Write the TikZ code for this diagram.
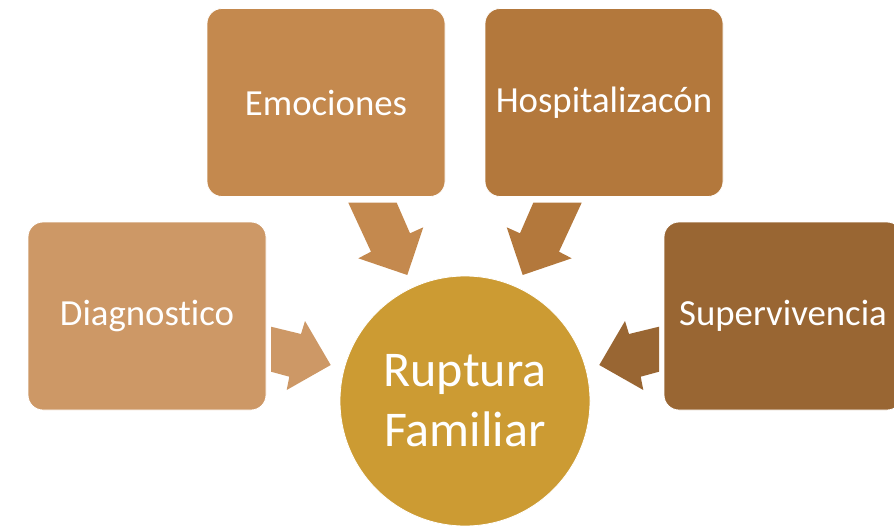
\documentclass[tikz,border=0pt]{standalone}
\usepackage{fontspec}
\setmainfont{Carlito}[Ligatures=NoCommon]
\usetikzlibrary{positioning}
\definecolor{diagcol}{HTML}{CD9866}
\definecolor{emocol}{HTML}{C4894E}
\definecolor{hospcol}{HTML}{B3783C}
\definecolor{supcol}{HTML}{996633}
\definecolor{rupcol}{HTML}{CC9B33}
\tikzset{
    caja/.style={rectangle,rounded corners=15pt,minimum width=238pt,minimum height=188pt,
        inner sep=0pt,draw=white,line width=0.8pt,text=white,font=\fontsize{36.8}{44}\selectfont},
    centro/.style={circle,minimum size=250pt,inner sep=0pt,draw=white,line width=0.8pt,
        text=white,align=center,font=\fontsize{50}{60}\selectfont}
}
\begin{document}
\begin{tikzpicture}[x=1pt,y=-1pt]
    \clip (0,0) rectangle (894,525);
    \node[centro,fill=rupcol] (r) at (465,401) {Ruptura\\Familiar};
    \node[caja,fill=diagcol] (d) at (147,316) {Diagnostico};
    \node[caja,fill=emocol] (e) at (326,102.5) {Emociones};
    \node[caja,fill=hospcol] (h) at (604,102.5) {Hospitalizacón};
    \node[caja,fill=supcol] (s) at (783,316) {Supervivencia};

    % flechas hacia el centro
    \fill[diagcol] (271,326.7) -- (301,334) -- (305,321) -- (330.7,365)
        -- (286.7,390) -- (289.3,376.7) -- (271,371.7) -- cycle;
    \fill[emocol] (348.3,202.7) -- (396.7,202.7) -- (410,233.3) -- (423.3,227.3)
        -- (407.3,275) -- (358.3,258.3) -- (371,251.7) -- cycle;
    \fill[hospcol] (581.7,202.7) -- (533.3,202.7) -- (520,233.3) -- (506.7,227.3)
        -- (522.7,275) -- (571.7,258.3) -- (559,251.7) -- cycle;
    \fill[supcol] (659,326.7) -- (629,334) -- (625,321) -- (599.3,365)
        -- (643.3,390) -- (640.7,376.7) -- (659,371.7) -- cycle;
\end{tikzpicture}
\end{document}
